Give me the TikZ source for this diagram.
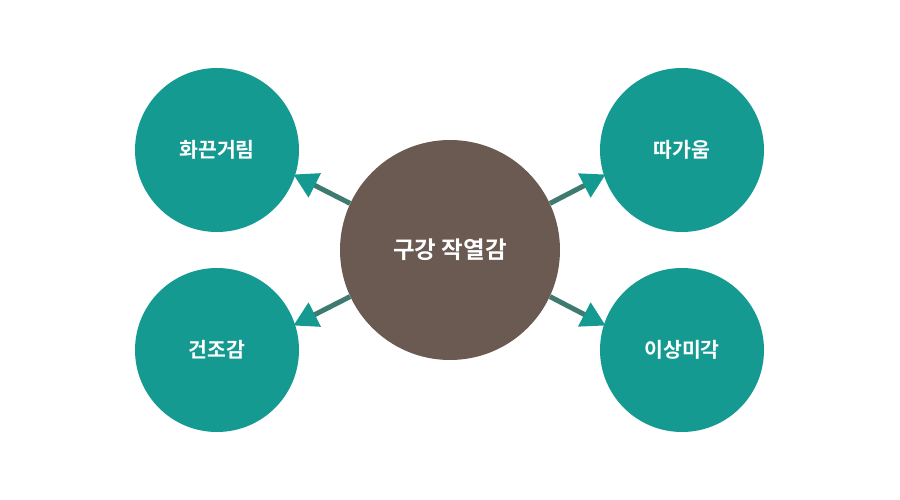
\documentclass[tikz,border=0pt]{standalone}
\usepackage{fontspec}
\setmainfont{Noto Sans CJK KR}[BoldFont={* Bold}]
\usetikzlibrary{arrows.meta}
\definecolor{tealc}{HTML}{149A91}
\definecolor{brownc}{HTML}{6A5A51}
\definecolor{shaftc}{HTML}{3F7A70}
\tikzset{
  outer/.style={circle,fill=tealc,text=white,minimum size=164pt,inner sep=0pt,font=\fontsize{20.5}{22}\selectfont\bfseries},
  center/.style={circle,fill=brownc,text=white,minimum size=220pt,inner sep=0pt,font=\fontsize{23.5}{26}\selectfont\bfseries},
  link/.style={draw=shaftc,line width=5pt,-{Triangle[length=24pt,width=26pt,color=tealc]},shorten >=-2pt}
}
\begin{document}
\begin{tikzpicture}[x=1pt,y=-1pt]
    \useasboundingbox (0,0) rectangle (900,500);
    \node[center] (c) at (450,250) {구강 작열감};
    \node[outer] (tl) at (217,150) {화끈거림};
    \node[outer] (bl) at (217,350) {건조감};
    \node[outer] (tr) at (682,150) {따가움};
    \node[outer] (br) at (682,350) {이상미각};
    \draw[link] (c.155) -- (tl.342);
    \draw[link] (c.205) -- (bl.18);
    \draw[link] (c.25) -- (tr.198);
    \draw[link] (c.335) -- (br.162);
  \end{tikzpicture}
\end{document}
